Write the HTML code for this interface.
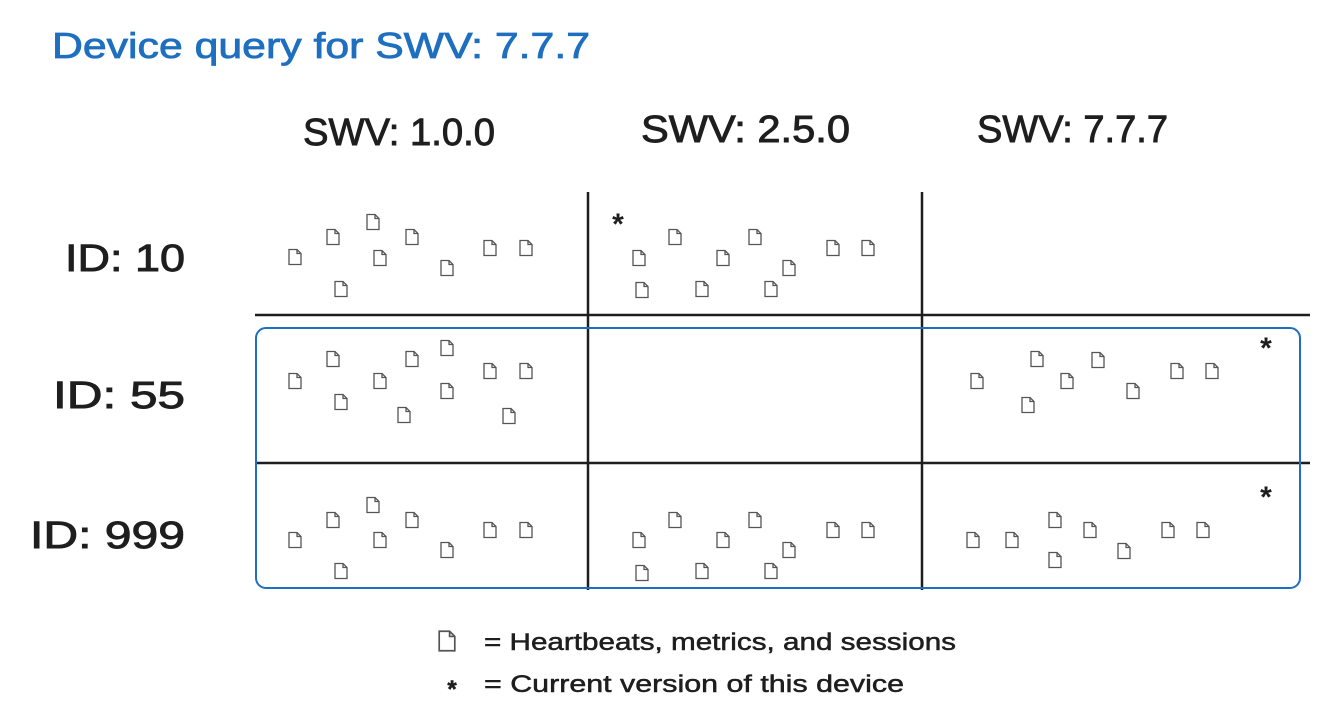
<!DOCTYPE html>
<html><head><meta charset="utf-8"><style>
html,body{margin:0;padding:0;background:#fff;}
svg{display:block;}
text{font-family:"Liberation Sans",sans-serif;}
</style></head><body>
<svg width="1335" height="724" viewBox="0 0 1335 724" xmlns="http://www.w3.org/2000/svg">
<defs>
<g id="d"><path d="M-6,-7.5 H2 L6,-3.5 V7.5 H-6 Z M2,-7.5 V-3.5 H6" fill="none" stroke="#555" stroke-width="1.3"/></g>
</defs>
<rect width="1335" height="724" fill="#fff"/>
<text x="52" y="58" font-size="36" fill="#1e6fc0" stroke="#1e6fc0" stroke-width="0.8" textLength="538" lengthAdjust="spacingAndGlyphs">Device query for SWV: 7.7.7</text>
<g fill="#1e1e1e" stroke="#1e1e1e" stroke-width="0.9" font-size="38">
<text x="303" y="145" textLength="192" lengthAdjust="spacingAndGlyphs">SWV: 1.0.0</text>
<text x="641" y="142" textLength="209" lengthAdjust="spacingAndGlyphs">SWV: 2.5.0</text>
<text x="977" y="142" textLength="191" lengthAdjust="spacingAndGlyphs">SWV: 7.7.7</text>
<text x="65" y="271" textLength="120" lengthAdjust="spacingAndGlyphs">ID: 10</text>
<text x="53" y="408" textLength="132" lengthAdjust="spacingAndGlyphs">ID: 55</text>
<text x="30" y="548" textLength="155" lengthAdjust="spacingAndGlyphs">ID: 999</text>
</g>
<g stroke="#1e1e1e" stroke-width="2.5" fill="none">
<line x1="255" y1="315" x2="1310" y2="315"/>
<line x1="255" y1="463" x2="1310" y2="463"/>
<line x1="588" y1="192" x2="588" y2="590"/>
<line x1="922" y1="192" x2="922" y2="590"/>
</g>
<rect x="256" y="328" width="1044" height="260" rx="10" fill="none" stroke="#1e6fc0" stroke-width="2"/>
<g>
<use href="#d" x="295" y="257"/><use href="#d" x="333" y="237"/><use href="#d" x="373" y="222"/><use href="#d" x="412" y="237"/><use href="#d" x="380" y="258"/><use href="#d" x="341" y="289"/><use href="#d" x="447" y="268"/><use href="#d" x="490" y="248"/><use href="#d" x="526" y="248"/>
<use href="#d" x="639" y="258"/><use href="#d" x="675" y="237"/><use href="#d" x="755" y="237"/><use href="#d" x="723" y="258"/><use href="#d" x="789" y="268"/><use href="#d" x="642" y="290"/><use href="#d" x="702" y="289"/><use href="#d" x="771" y="289"/><use href="#d" x="833" y="248"/><use href="#d" x="868" y="248"/>
<use href="#d" x="295" y="381"/><use href="#d" x="333" y="359"/><use href="#d" x="412" y="359"/><use href="#d" x="447" y="348"/><use href="#d" x="380" y="381"/><use href="#d" x="341" y="402"/><use href="#d" x="404" y="415"/><use href="#d" x="447" y="391"/><use href="#d" x="490" y="371"/><use href="#d" x="526" y="371"/><use href="#d" x="509" y="416"/>
<use href="#d" x="977" y="381"/><use href="#d" x="1037" y="359"/><use href="#d" x="1098" y="360"/><use href="#d" x="1067" y="381"/><use href="#d" x="1028" y="405"/><use href="#d" x="1133" y="391"/><use href="#d" x="1177" y="371"/><use href="#d" x="1212" y="371"/>
<use href="#d" x="295" y="540"/><use href="#d" x="333" y="520"/><use href="#d" x="373" y="505"/><use href="#d" x="412" y="520"/><use href="#d" x="380" y="540"/><use href="#d" x="341" y="571"/><use href="#d" x="447" y="550"/><use href="#d" x="490" y="530"/><use href="#d" x="526" y="530"/>
<use href="#d" x="639" y="540"/><use href="#d" x="675" y="520"/><use href="#d" x="755" y="520"/><use href="#d" x="723" y="540"/><use href="#d" x="789" y="550"/><use href="#d" x="642" y="573"/><use href="#d" x="702" y="571"/><use href="#d" x="771" y="571"/><use href="#d" x="833" y="530"/><use href="#d" x="868" y="530"/>
<use href="#d" x="973" y="540"/><use href="#d" x="1012" y="540"/><use href="#d" x="1055" y="520"/><use href="#d" x="1090" y="530"/><use href="#d" x="1055" y="560"/><use href="#d" x="1124" y="551"/><use href="#d" x="1168" y="530"/><use href="#d" x="1203" y="530"/>
</g>
<g fill="#1e1e1e" font-size="30" font-weight="bold" text-anchor="middle">
<text x="618" y="234">*</text>
<text x="1266" y="358">*</text>
<text x="1266" y="507">*</text>
</g>
<g transform="translate(447,641) scale(1.3)"><use href="#d"/></g>
<g fill="#1e1e1e" stroke="#1e1e1e" stroke-width="0.5" font-size="24">
<text x="484" y="650" textLength="472" lengthAdjust="spacingAndGlyphs">= Heartbeats, metrics, and sessions</text>
<text x="452" y="697" font-size="24" font-weight="bold" text-anchor="middle">*</text>
<text x="484" y="692" textLength="420" lengthAdjust="spacingAndGlyphs">= Current version of this device</text>
</g>
</svg>
</body></html>
